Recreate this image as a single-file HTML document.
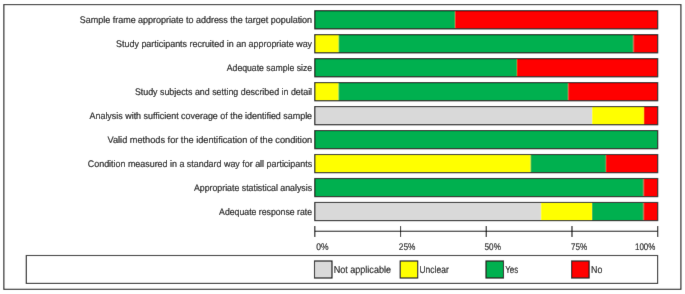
<!DOCTYPE html>
<html><head><meta charset="utf-8"><style>
html,body{margin:0;padding:0;background:#fff;width:685px;height:294px;overflow:hidden}
svg{display:block}
#w{width:685px;height:294px;will-change:transform}
.ax{font-size:9.6px;stroke-width:0.12px}
.lg{font-size:10.1px;stroke-width:0.12px}
text{text-rendering:geometricPrecision;font-family:"Liberation Sans",sans-serif;font-size:9.5px;fill:#000;stroke:#000;stroke-width:0.15px}
</style></head><body>
<div id="w"><svg width="685" height="294" viewBox="0 0 685 294"><defs><filter id="b" x="0" y="0" width="1" height="1"><feConvolveMatrix order="3" kernelMatrix="0.005 0.06 0.005 0.06 0.74 0.06 0.005 0.06 0.005" edgeMode="duplicate"/></filter></defs><g filter="url(#b)"><rect width="685" height="294" fill="#fff"/>
<rect x="3.85" y="4.6" width="677.05" height="284.70" fill="none" stroke="#111" stroke-width="1.1"/>
<rect x="314.80" y="10.70" width="140.40" height="18.15" fill="#00b050"/>
<rect x="455.20" y="10.70" width="202.50" height="18.15" fill="#ff0000"/>
<rect x="314.8" y="10.70" width="342.90000000000003" height="18.15" fill="none" stroke="#000" stroke-width="1.1"/>
<text x="79.8" y="23.07" textLength="232.30" lengthAdjust="spacingAndGlyphs">Sample frame appropriate to address the target population</text>
<rect x="314.80" y="34.67" width="23.90" height="18.15" fill="#ffff00"/>
<rect x="338.70" y="34.67" width="294.80" height="18.15" fill="#00b050"/>
<rect x="633.50" y="34.67" width="24.20" height="18.15" fill="#ff0000"/>
<rect x="314.8" y="34.67" width="342.90000000000003" height="18.15" fill="none" stroke="#000" stroke-width="1.1"/>
<text x="116.1" y="47.05" textLength="196.00" lengthAdjust="spacingAndGlyphs">Study participants recruited in an appropriate way</text>
<rect x="314.80" y="58.64" width="202.20" height="18.15" fill="#00b050"/>
<rect x="517.00" y="58.64" width="140.70" height="18.15" fill="#ff0000"/>
<rect x="314.8" y="58.64" width="342.90000000000003" height="18.15" fill="none" stroke="#000" stroke-width="1.1"/>
<text x="226.8" y="71.02" textLength="85.30" lengthAdjust="spacingAndGlyphs">Adequate sample size</text>
<rect x="314.80" y="82.61" width="23.80" height="18.15" fill="#ffff00"/>
<rect x="338.60" y="82.61" width="229.70" height="18.15" fill="#00b050"/>
<rect x="568.30" y="82.61" width="89.40" height="18.15" fill="#ff0000"/>
<rect x="314.8" y="82.61" width="342.90000000000003" height="18.15" fill="none" stroke="#000" stroke-width="1.1"/>
<text x="134.9" y="94.98" textLength="177.20" lengthAdjust="spacingAndGlyphs">Study subjects and setting described in detail</text>
<rect x="314.80" y="106.58" width="277.30" height="18.15" fill="#d9d9d9"/>
<rect x="592.10" y="106.58" width="51.80" height="18.15" fill="#ffff00"/>
<rect x="643.90" y="106.58" width="13.80" height="18.15" fill="#ff0000"/>
<rect x="314.8" y="106.58" width="342.90000000000003" height="18.15" fill="none" stroke="#000" stroke-width="1.1"/>
<text x="89.5" y="118.95" textLength="222.60" lengthAdjust="spacingAndGlyphs">Analysis with sufficient coverage of the identified sample</text>
<rect x="314.80" y="130.55" width="342.90" height="18.15" fill="#00b050"/>
<rect x="314.8" y="130.55" width="342.90000000000003" height="18.15" fill="none" stroke="#000" stroke-width="1.1"/>
<text x="107.5" y="142.92" textLength="204.60" lengthAdjust="spacingAndGlyphs">Valid methods for the identification of the condition</text>
<rect x="314.80" y="154.52" width="215.90" height="18.15" fill="#ffff00"/>
<rect x="530.70" y="154.52" width="75.20" height="18.15" fill="#00b050"/>
<rect x="605.90" y="154.52" width="51.80" height="18.15" fill="#ff0000"/>
<rect x="314.8" y="154.52" width="342.90000000000003" height="18.15" fill="none" stroke="#000" stroke-width="1.1"/>
<text x="87.8" y="166.89" textLength="224.30" lengthAdjust="spacingAndGlyphs">Condition measured in a standard way for all participants</text>
<rect x="314.80" y="178.49" width="328.80" height="18.15" fill="#00b050"/>
<rect x="643.60" y="178.49" width="14.10" height="18.15" fill="#ff0000"/>
<rect x="314.8" y="178.49" width="342.90000000000003" height="18.15" fill="none" stroke="#000" stroke-width="1.1"/>
<text x="193.9" y="190.86" textLength="118.20" lengthAdjust="spacingAndGlyphs">Appropriate statistical analysis</text>
<rect x="314.80" y="202.46" width="226.10" height="18.15" fill="#d9d9d9"/>
<rect x="540.90" y="202.46" width="51.20" height="18.15" fill="#ffff00"/>
<rect x="592.10" y="202.46" width="51.50" height="18.15" fill="#00b050"/>
<rect x="643.60" y="202.46" width="14.10" height="18.15" fill="#ff0000"/>
<rect x="314.8" y="202.46" width="342.90000000000003" height="18.15" fill="none" stroke="#000" stroke-width="1.1"/>
<text x="219.1" y="214.83" textLength="93.00" lengthAdjust="spacingAndGlyphs">Adequate response rate</text>
<line x1="314.8" y1="231.2" x2="657.7" y2="231.2" stroke="#000" stroke-width="1.1"/>
<line x1="314.80" y1="226" x2="314.80" y2="237" stroke="#000" stroke-width="1.1"/>
<line x1="400.53" y1="226" x2="400.53" y2="237" stroke="#000" stroke-width="1.1"/>
<line x1="486.25" y1="226" x2="486.25" y2="237" stroke="#000" stroke-width="1.1"/>
<line x1="571.98" y1="226" x2="571.98" y2="237" stroke="#000" stroke-width="1.1"/>
<line x1="657.70" y1="226" x2="657.70" y2="237" stroke="#000" stroke-width="1.1"/>
<text class="ax" x="316.2" y="249.9" textLength="12.30" lengthAdjust="spacingAndGlyphs">0%</text>
<text class="ax" x="398.8" y="249.9" textLength="16.60" lengthAdjust="spacingAndGlyphs">25%</text>
<text class="ax" x="484.6" y="249.9" textLength="16.30" lengthAdjust="spacingAndGlyphs">50%</text>
<text class="ax" x="570.9" y="249.9" textLength="16.20" lengthAdjust="spacingAndGlyphs">75%</text>
<text class="ax" x="635" y="249.9" textLength="20.40" lengthAdjust="spacingAndGlyphs">100%</text>
<rect x="26.3" y="255.5" width="631.30" height="27.9" fill="none" stroke="#000" stroke-width="1.1"/>
<rect x="314.5" y="261" width="17.5" height="17" fill="#d9d9d9" stroke="#000" stroke-width="1.1"/>
<text class="lg" x="333.7" y="273.1" textLength="57.30" lengthAdjust="spacingAndGlyphs">Not applicable</text>
<rect x="400.2" y="261" width="17.5" height="17" fill="#ffff00" stroke="#000" stroke-width="1.1"/>
<text class="lg" x="419.5" y="273.1" textLength="29.20" lengthAdjust="spacingAndGlyphs">Unclear</text>
<rect x="486" y="261" width="17.5" height="17" fill="#00b050" stroke="#000" stroke-width="1.1"/>
<text class="lg" x="505.2" y="273.1" textLength="13.00" lengthAdjust="spacingAndGlyphs">Yes</text>
<rect x="571.6" y="261" width="17.5" height="17" fill="#ff0000" stroke="#000" stroke-width="1.1"/>
<text class="lg" x="591" y="273.1" textLength="11.30" lengthAdjust="spacingAndGlyphs">No</text></g>
</svg></div>
</body></html>
